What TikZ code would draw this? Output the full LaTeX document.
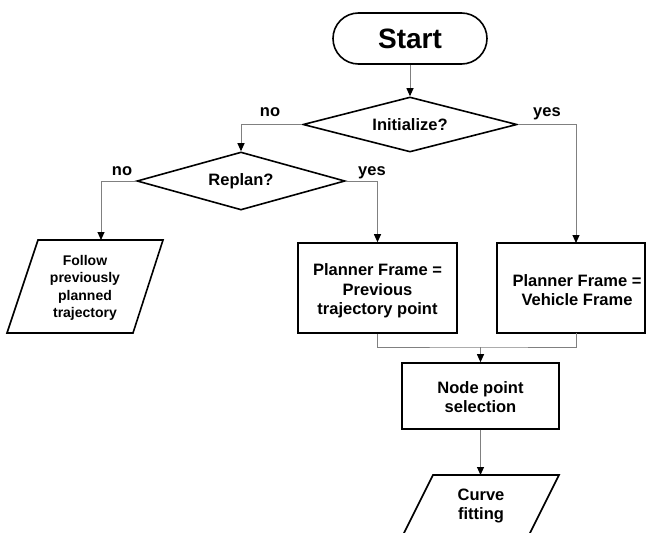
\documentclass[tikz,border=0pt]{standalone}
\usepackage{fontspec}
\setmainfont{Liberation Sans}
\usetikzlibrary{arrows.meta,shapes.geometric}
\begin{document}
\begin{tikzpicture}[x=1pt,y=-1pt,
  shp/.style={draw=black,line width=1.6pt},
  txt/.style={align=center,font=\bfseries\fontsize{16.5}{19.5}\selectfont,inner sep=0pt},
  smalltxt/.style={align=center,font=\bfseries\fontsize{14}{17.5}\selectfont,inner sep=0pt},
  lbl/.style={font=\bfseries\fontsize{16.5}{19.5}\selectfont,inner sep=0pt,anchor=base},
  conn/.style={draw=gray,line width=1pt,-{Triangle[width=7pt,length=8pt,color=black]}},
  plain/.style={draw=gray,line width=1pt}]
\useasboundingbox (0,0) rectangle (646,533);

% shapes
\node[shp, rounded corners=25.5pt, minimum width=154pt, minimum height=51pt, inner sep=0pt,
      font=\bfseries\fontsize{28}{32}\selectfont] (start) at (410,38.5) {Start};
\node[diamond, shp, txt, minimum width=214pt, minimum height=55pt, shape aspect=3.9] (init) at (410,124.5) {Initialize?};
\node[diamond, shp, txt, minimum width=208pt, minimum height=58pt, shape aspect=3.6] (replan) at (241,181) {Replan?};

\draw[shp] (38,240) -- (163,240) -- (133,333) -- (7,333) -- cycle;
\node[smalltxt] (follow) at (85,288) {Follow\\previously\\planned\\trajectory};

\node[shp, txt, minimum width=159pt, minimum height=90pt] (pbox) at (377.5,288) {};
\node[txt] (ptext) at (377.5,291) {Planner Frame =\\Previous\\trajectory point};

\node[shp, minimum width=148pt, minimum height=90pt, inner sep=0pt] (vbox) at (571,288) {};
\node[txt] (vtext) at (577,290) {Planner Frame =\\Vehicle Frame};

\node[shp, minimum width=157pt, minimum height=66pt, inner sep=0pt] (nbox) at (480.5,396) {};
\node[txt] (ntext) at (480.5,397) {Node point\\selection};

\draw[shp] (433,475) -- (559,475) -- (529,535) -- (403,535) -- cycle;
\node[txt] (curve) at (481,506) {Curve\\fitting};

% coordinates
\coordinate (vin) at (576,243);
\coordinate (vout) at (576,333);
\coordinate (followtop) at (101,240);
\coordinate (merge) at (480.5,347);
\coordinate (curvetop) at (480.5,475);

% connectors
\draw[conn] (start) -- (init);
\draw[conn] (init.east) -| (vin);
\draw[conn] (init.west) -| (replan.north);
\draw[conn] (replan.west) -| (followtop);
\draw[conn] (replan.east) -| (pbox.north);
\draw[plain] (pbox.south) |- (merge) -| (vout);
\draw[conn] (merge) -- (nbox.north);
\draw[conn] (nbox.south) -- (curvetop);

% labels
\node[lbl] (noinit) at (270,116) {no};
\node[lbl] (yesinit) at (547,116) {yes};
\node[lbl] (noreplan) at (122,175) {no};
\node[lbl] (yesreplan) at (372,175) {yes};
\end{tikzpicture}
\end{document}
